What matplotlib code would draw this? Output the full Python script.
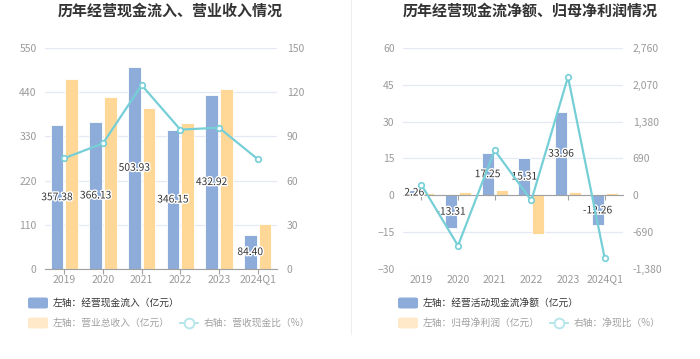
import matplotlib
matplotlib.use('Agg')
from matplotlib import pyplot as plt
from matplotlib.patches import FancyBboxPatch
from matplotlib.lines import Line2D
from matplotlib.ticker import FuncFormatter
from matplotlib.transforms import offset_copy
import matplotlib.patheffects as pe
import numpy as np

plt.rcParams['font.family'] = ['Noto Sans CJK SC', 'DejaVu Sans']

years = ['2019', '2020', '2021', '2022', '2023', '2024Q1']

# left chart
cash_in = [357.38, 366.13, 503.93, 346.15, 432.92, 84.40]
revenue = [472, 427, 401, 364, 449, 113]
cash_ratio = [75.2, 85.3, 124.8, 94.6, 95.9, 74.6]

# right chart
net_cash = [2.26, -13.31, 17.25, 15.31, 33.96, -12.26]
net_profit = [1.13, 1.41, 2.04, -15.9, 1.53, 1.04]
net_ratio = [200, -943, 844, -96, 2218, -1175]

BLUE = '#8dacda'
ORANGE = '#ffd898'
TEAL = '#76cfd6'
GRID = '#e4e9f3'
TICK = '#9a9a9a'

W, H = 700, 359
fig = plt.figure(figsize=(W/100, H/100), dpi=100)

def fx(px):
    return px / W

def fy(py):
    return 1 - py / H

def panel(x0, x1, bars1, bars2, line, lim1, ticks1, lim2, ticks2, fmt2):
    ax = fig.add_axes([fx(x0), fy(269), fx(x1 - x0), (269 - 48) / H])
    x = np.arange(len(years))
    ax.bar(x - 0.19, bars1, width=0.33, color=BLUE, edgecolor='white', linewidth=0.6, zorder=2)
    ax.bar(x + 0.19, bars2, width=0.33, color=ORANGE, edgecolor='white', linewidth=0.6, zorder=2)
    for xi, v in zip(x, bars1):
        ax.text(xi - 0.19, v / 2, '%.2f' % v, ha='center', va='center', fontsize=7.4,
                color='#333333', zorder=3,
                path_effects=[pe.withStroke(linewidth=2, foreground='white')])
    ax.set_xlim(-0.5, len(years) - 0.5)
    ax.set_ylim(*lim1)
    ax.set_yticks(ticks1)
    ax.set_xticks(x)
    ax.set_xticklabels([])
    # year labels always under the plot area, even when the zero line is higher
    tr = offset_copy(ax.get_xaxis_transform(), fig=fig, y=-4, units='points')
    for xi, yr in zip(x, years):
        ax.text(xi, 0, yr, transform=tr, ha='center', va='top', fontsize=7.5, color=TICK)
    ax.grid(axis='y', color=GRID, linewidth=0.9)
    ax.set_axisbelow(True)
    for s in ['top', 'right', 'left']:
        ax.spines[s].set_visible(False)
    ax.spines['bottom'].set_color('#a0a0a0')
    ax.spines['bottom'].set_position(('data', 0))
    ax.tick_params(axis='y', length=0, pad=6, labelsize=7.5, labelcolor=TICK)
    ax.tick_params(axis='x', length=3.5, color='#a0a0a0')
    ax2 = ax.twinx()
    ax2.plot(x, line, color=TEAL, linewidth=1.6, marker='o', markersize=4,
             markerfacecolor='white', markeredgecolor=TEAL, markeredgewidth=1.2, zorder=5)
    ax2.set_ylim(*lim2)
    ax2.set_yticks(ticks2)
    ax2.yaxis.set_major_formatter(FuncFormatter(fmt2))
    for s in ax2.spines.values():
        s.set_visible(False)
    ax2.tick_params(axis='y', length=0, pad=7, labelsize=7.5, labelcolor=TICK)
    return ax, ax2

ax, ax2 = panel(45, 277, cash_in, revenue, cash_ratio,
                (0, 550), np.arange(0, 551, 110), (0, 150), np.arange(0, 151, 30),
                lambda v, p: '%d' % v)

bx, bx2 = panel(403, 623, net_cash, net_profit, net_ratio,
                (-30, 60), np.arange(-30, 61, 15), (-1380, 2760), np.arange(-1380, 2761, 690),
                lambda v, p: '{:,}'.format(int(v)))

# titles
fig.text(fx(170), fy(11), '历年经营现金流入、营业收入情况', ha='center', va='center',
         fontsize=10.8, fontweight='bold', color='#333333')
fig.text(fx(530), fy(11), '历年经营现金流净额、归母净利润情况', ha='center', va='center',
         fontsize=10.8, fontweight='bold', color='#333333')

# divider
fig.add_artist(Line2D([fx(351), fx(351)], [fy(0), fy(334)], color='#eeeeee', linewidth=0.8))

def patch(x0, yc, color):
    fig.add_artist(FancyBboxPatch((fx(x0), fy(yc + 5.5)), fx(20), 11 / H,
                                  boxstyle='round,pad=0,rounding_size=0.004',
                                  facecolor=color, edgecolor='none', transform=fig.transFigure))

def legend(x0, xl, t1, t2, t3):
    patch(x0, 303, BLUE)
    fig.text(fx(x0 + 25), fy(303), t1, ha='left', va='center', fontsize=7, color='#333333')
    patch(x0, 323, '#ffe9c9')
    fig.text(fx(x0 + 25), fy(323), t2, ha='left', va='center', fontsize=7, color='#a0a0a0')
    fig.add_artist(Line2D([fx(xl), fx(xl + 18)], [fy(323), fy(323)], color='#b6e6ea',
                          linewidth=1.4, marker=None))
    fig.add_artist(Line2D([fx(xl + 9)], [fy(323)], marker='o', markersize=7,
                          markerfacecolor='white', markeredgecolor='#b6e6ea', markeredgewidth=1.4))
    fig.text(fx(xl + 24), fy(323), t3, ha='left', va='center', fontsize=7, color='#a0a0a0')

legend(28, 180, '左轴：经营现金流入（亿元）', '左轴：营业总收入（亿元）', '右轴：营收现金比（%）')
legend(398, 550, '左轴：经营活动现金流净额（亿元）', '左轴：归母净利润（亿元）', '右轴：净现比（%）')

fig.savefig('out.png', dpi=100)
